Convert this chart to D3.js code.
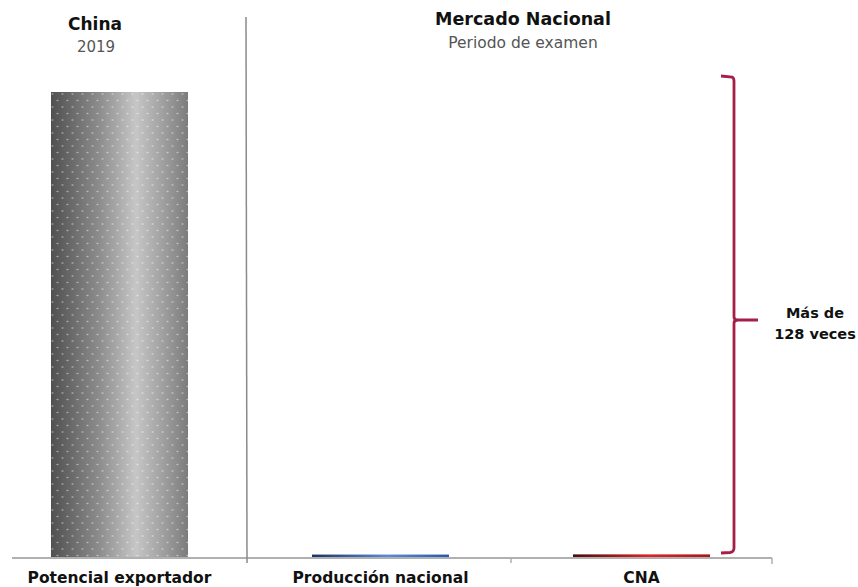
<!DOCTYPE html>
<html>
<head>
<meta charset="utf-8">
<script src="https://cdn.jsdelivr.net/npm/d3@7"></script>
<style>
  body { margin: 0; background: #fff; }
  text { font-family: "DejaVu Sans", sans-serif; }
</style>
</head>
<body>
<div id="chart"></div>
<script>
// datos (índice relativo, CNA = 1)
var categories = ["Potencial exportador", "Producción nacional", "CNA"];
var values = [128.6, 0.95, 1];
var fills = ["url(#gradGris)", "url(#gradAzul)", "url(#gradRojo)"];

var svgWidth = 858;
var svgHeight = 587;
var baseY = 558;
var topY = 92;

var svg = d3.select("#chart")
  .append("svg")
  .attr("width", svgWidth)
  .attr("height", svgHeight);

var defs = svg.append("defs");

function gradient(id, stops) {
  var g = defs.append("linearGradient")
    .attr("id", id)
    .attr("x1", "0%").attr("x2", "100%")
    .attr("y1", "0%").attr("y2", "0%");
  stops.forEach(function(s) {
    g.append("stop").attr("offset", s[0]).attr("stop-color", s[1]);
  });
}

gradient("gradGris", [["0%", "#505050"], ["35%", "#8c8c8c"], ["62%", "#c6c6c6"], ["100%", "#7c7c7c"]]);
gradient("gradAzul", [["0%", "#1c3364"], ["55%", "#5b8ad6"], ["100%", "#2a57a6"]]);
gradient("gradRojo", [["0%", "#4a0c0e"], ["55%", "#e02424"], ["100%", "#a8161a"]]);

// puntos blancos sobre el cilindro
var pat = defs.append("pattern")
  .attr("id", "puntos")
  .attr("patternUnits", "userSpaceOnUse")
  .attr("width", 10)
  .attr("height", 13);
pat.append("ellipse").attr("cx", 2.5).attr("cy", 3).attr("rx", 1.2).attr("ry", 0.8)
  .attr("fill", "#fff").attr("opacity", 0.45);
pat.append("ellipse").attr("cx", 7.5).attr("cy", 9.5).attr("rx", 1.2).attr("ry", 0.8)
  .attr("fill", "#fff").attr("opacity", 0.45);

var x = d3.scaleBand()
  .domain(categories)
  .range([-11, 772])
  .paddingInner(0.475)
  .paddingOuter(0.2375);

var y = d3.scaleLinear()
  .domain([0, d3.max(values)])
  .range([baseY, topY]);

var bars = svg.append("g");

bars.selectAll("rect.bar")
  .data(categories)
  .enter()
  .append("rect")
  .attr("class", "bar")
  .attr("x", d => x(d))
  .attr("y", (d, i) => y(values[i]))
  .attr("width", x.bandwidth())
  .attr("height", (d, i) => baseY - y(values[i]))
  .attr("fill", (d, i) => fills[i]);

// textura solo en la primera barra
bars.append("rect")
  .attr("x", x(categories[0]))
  .attr("y", y(values[0]))
  .attr("width", x.bandwidth())
  .attr("height", baseY - y(values[0]))
  .attr("fill", "url(#puntos)");

// eje
svg.append("line")
  .attr("x1", 12).attr("x2", 772)
  .attr("y1", baseY).attr("y2", baseY)
  .attr("stroke", "#b0b0b0")
  .attr("stroke-width", 2);

svg.append("line")
  .attr("x1", x(categories[2]) - x.step() * x.paddingInner() / 2)
  .attr("x2", x(categories[2]) - x.step() * x.paddingInner() / 2)
  .attr("y1", baseY).attr("y2", baseY + 5)
  .attr("stroke", "#b0b0b0").attr("stroke-width", 1.5);

svg.append("line")
  .attr("x1", 772).attr("x2", 772)
  .attr("y1", baseY).attr("y2", baseY + 6)
  .attr("stroke", "#b0b0b0").attr("stroke-width", 1.5);

// separador
svg.append("line")
  .attr("x1", 246).attr("x2", 247)
  .attr("y1", 17).attr("y2", 563)
  .attr("stroke", "#8a8a8a")
  .attr("stroke-width", 1.5);

var xAxis = svg.append("g")
  .attr("transform", `translate(0, ${baseY})`)
  .call(d3.axisBottom(x).tickSize(0).tickPadding(14));

xAxis.select(".domain").remove();
xAxis.selectAll("text")
  .attr("font-family", "DejaVu Sans, sans-serif")
  .attr("font-size", 15.5)
  .attr("font-weight", "bold")
  .attr("fill", "#111");

// títulos
svg.append("text")
  .attr("x", 95).attr("y", 30)
  .attr("text-anchor", "middle")
  .attr("font-size", 17).attr("font-weight", "bold").attr("fill", "#111")
  .text("China");

svg.append("text")
  .attr("x", 96).attr("y", 52)
  .attr("text-anchor", "middle")
  .attr("font-size", 15).attr("fill", "#555")
  .text("2019");

svg.append("text")
  .attr("x", 523).attr("y", 25)
  .attr("text-anchor", "middle")
  .attr("font-size", 17.5).attr("font-weight", "bold").attr("fill", "#111")
  .text("Mercado Nacional");

svg.append("text")
  .attr("x", 523).attr("y", 48)
  .attr("text-anchor", "middle")
  .attr("font-size", 15.5).attr("fill", "#555")
  .text("Periodo de examen");

// llave
var bx = 734;
var bTop = 76;
var bBot = 553;
var bMid = 320;
svg.append("path")
  .attr("d", `M${bx - 13},${bTop} L${bx - 2},${bTop + 1} Q${bx},${bTop + 2} ${bx},${bTop + 5}` +
    ` L${bx},${bMid - 3} Q${bx},${bMid} ${bx + 4},${bMid} L${bx + 24},${bMid}` +
    ` M${bx + 4},${bMid} Q${bx},${bMid} ${bx},${bMid + 3}` +
    ` L${bx},${bBot - 5} Q${bx},${bBot - 1} ${bx - 4},${bBot - 0.5} L${bx - 13},${bBot}`)
  .attr("fill", "none")
  .attr("stroke", "#a51f48")
  .attr("stroke-width", 2.8);

svg.append("text")
  .attr("x", 815).attr("y", 318)
  .attr("text-anchor", "middle")
  .attr("font-size", 14.5).attr("font-weight", "bold").attr("fill", "#111")
  .text("Más de");

svg.append("text")
  .attr("x", 815).attr("y", 339)
  .attr("text-anchor", "middle")
  .attr("font-size", 14.5).attr("font-weight", "bold").attr("fill", "#111")
  .text("128 veces");
</script>
</body>
</html>
